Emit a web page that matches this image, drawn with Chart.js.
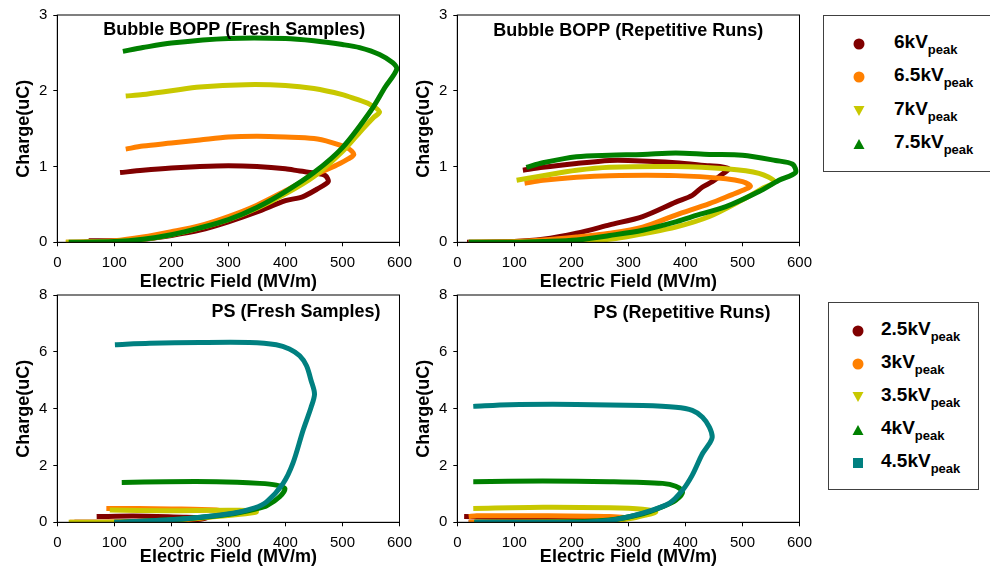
<!DOCTYPE html>
<html>
<head>
<meta charset="utf-8">
<script src="https://cdn.jsdelivr.net/npm/chart.js@4.4.0/dist/chart.umd.min.js"></script>
<style>
  body { margin: 0; width: 990px; height: 570px; overflow: hidden; background: #fff; position: relative;
         font-family: 'Liberation Sans', Arial, sans-serif; }
  canvas { position: absolute; }
  .legend { position: absolute; border: 1px solid #404040; background: #fff; }
  .mark { position: absolute; width: 12px; height: 12px; }
  .lab { position: absolute; font-weight: bold; font-size: 19px; line-height: 19px; color: #000; white-space: nowrap; }
  .lab sub { font-size: 13px; vertical-align: baseline; position: relative; top: 6px; }
</style>
</head>
<body>
<canvas id="bubbleFresh" width="420" height="300" style="left:0;top:0"></canvas>
<canvas id="bubbleRep" width="420" height="300" style="left:400px;top:0"></canvas>
<canvas id="psFresh" width="420" height="290" style="left:0;top:280px"></canvas>
<canvas id="psRep" width="420" height="290" style="left:400px;top:280px"></canvas>
<div class="legend" id="legBubble" style="left:823px;top:15px;width:180px;height:155px"></div>
<div class="legend" id="legPs" style="left:828px;top:302px;width:149px;height:186px"></div>
<script>
// couleurs / séries
const bubbleLabels = ['6', '6.5', '7', '7.5'];
const psLabels = ['2.5', '3', '3.5', '4', '4.5'];
const colors = ['#800000', '#ff8000', '#c8c800', '#008000', '#008080'];
const markers = ['circle', 'circle', 'triDown', 'triUp', 'square'];

// Bubble BOPP, fresh samples  [E (MV/m), Q (uC)]
const bubbleFresh6 = [[55,0.02],[100,0.02],[150,0.04],[200,0.09],[250,0.16],[300,0.27],[350,0.4],[400,0.55],[430,0.6],[455,0.7],[475,0.8],
  [470,0.88],[455,0.91],[425,0.94],[400,0.97],[350,1.0],[300,1.01],[250,1.0],[200,0.98],[150,0.95],[110,0.92]];
const bubbleFresh65 = [[15,0],[60,0.01],[100,0.02],[150,0.07],[200,0.14],[250,0.22],[300,0.34],[350,0.49],[400,0.68],[450,0.88],[490,1.02],[510,1.1],[520,1.16],
  [510,1.24],[480,1.32],[450,1.37],[400,1.39],[350,1.4],[300,1.39],[250,1.35],[200,1.31],[150,1.27],[120,1.23]];
const bubbleFresh7 = [[15,0],[100,0.01],[150,0.04],[200,0.1],[250,0.19],[300,0.3],[350,0.45],[400,0.64],[450,0.87],[500,1.2],[530,1.45],[555,1.65],[565,1.72],
  [548,1.82],[520,1.9],[500,1.95],[450,2.03],[400,2.07],[330,2.08],[250,2.05],[200,2.0],[150,1.95],[120,1.93]];
const bubbleFresh75 = [[20,0],[100,0.01],[150,0.04],[200,0.1],[250,0.19],[300,0.3],[350,0.46],[400,0.67],[450,0.92],[500,1.25],[550,1.74],[575,2.05],[595,2.28],
  [588,2.37],[565,2.48],[530,2.57],[500,2.61],[450,2.66],[400,2.69],[300,2.69],[200,2.63],[150,2.57],[115,2.52]];

// Bubble BOPP, repetitive runs
const bubbleRep6 = [[17,0],[100,0.01],[150,0.04],[209,0.12],[267,0.23],[325,0.34],[383,0.53],[412,0.62],[430,0.73],[447,0.8],[465,0.9],[476,0.97],
  [460,1.0],[442,1.01],[383,1.05],[300,1.08],[267,1.08],[209,1.04],[150,0.99],[115,0.95]];
const bubbleRep65 = [[20,0],[100,0.01],[150,0.03],[209,0.07],[267,0.12],[325,0.2],[383,0.36],[442,0.51],[482,0.63],[505,0.7],[514,0.74],
  [500,0.8],[471,0.84],[383,0.88],[267,0.88],[209,0.86],[150,0.82],[118,0.78]];
const bubbleRep7 = [[20,0],[150,0],[220,0.01],[278,0.05],[330,0.12],[383,0.2],[442,0.34],[500,0.56],[535,0.71],[556,0.8],
  [529,0.91],[471,0.97],[383,1.0],[267,0.99],[209,0.95],[150,0.88],[104,0.82]];
const bubbleRep75 = [[20,0],[100,0],[150,0.01],[209,0.03],[267,0.09],[325,0.16],[383,0.27],[412,0.34],[471,0.47],[529,0.67],[564,0.82],[593,0.92],
  [588,1.03],[558,1.08],[500,1.15],[442,1.16],[383,1.18],[325,1.16],[267,1.15],[209,1.13],[150,1.05],[121,0.99]];

// PS, fresh samples
const psFresh25 = [[30,0],[100,0],[200,0.04],[240,0.08],[262,0.14],[240,0.17],[221,0.18],[133,0.22],[69,0.2]];
const psFresh3 = [[22,0],[100,0.01],[200,0.07],[260,0.17],[297,0.32],[279,0.43],[200,0.47],[86,0.49]];
const psFresh35 = [[20,0],[100,0],[191,0.06],[279,0.2],[330,0.3],[349,0.37],[320,0.42],[191,0.41],[92,0.43]];
const psFresh4 = [[100,0],[191,0.08],[250,0.17],[308,0.3],[350,0.48],[367,0.58],[390,0.9],[399,1.19],
  [384,1.31],[355,1.37],[279,1.43],[191,1.43],[113,1.4]];
const psFresh45 = [[100,0],[191,0.08],[250,0.18],[308,0.32],[345,0.5],[367,0.72],[396,1.37],[413,2.07],[431,3.24],[445,4.05],[451,4.52],
  [445,4.99],[437,5.51],[425,5.86],[407,6.1],[384,6.25],[337,6.33],[250,6.33],[162,6.3],[101,6.25]];

// PS, repetitive runs
const psRep25 = [[20,0],[100,0],[200,0.02],[246,0.05],[200,0.15],[100,0.18],[12,0.2]];
const psRep3 = [[20,0],[200,0.02],[270,0.06],[299,0.14],[267,0.2],[150,0.23],[34,0.23],[20,0.2]];
const psRep35 = [[30,0],[250,0.03],[300,0.12],[330,0.25],[348,0.37],[325,0.46],[267,0.51],[150,0.53],[28,0.49]];
const psRep4 = [[30,0],[200,0.02],[267,0.08],[325,0.3],[360,0.55],[383,0.78],[395,1.07],
  [383,1.27],[360,1.37],[267,1.43],[150,1.45],[28,1.43]];
const psRep45 = [[30,0],[150,0],[220,0],[278,0.1],[325,0.32],[372,0.67],[395,1.13],[412,1.66],[430,2.42],[442,2.77],[447,3.0],
  [442,3.35],[430,3.7],[412,3.94],[383,4.05],[325,4.11],[209,4.15],[92,4.14],[28,4.08]];

const xTicks = [0, 100, 200, 300, 400, 500, 600];
const bubbleYTicks = [0, 1, 2, 3];
const psYTicks = [0, 2, 4, 6, 8];

const FONT = "'Liberation Sans', Arial, sans-serif";

// cadre + titre dans la zone du graphique
const panelPlugin = {
    id: 'panel',
    afterDraw(chart, args, opts) {
        const ctx = chart.ctx;
        const a = chart.chartArea;
        ctx.save();
        ctx.strokeStyle = '#000';
        ctx.lineWidth = 1;
        ctx.strokeRect(a.left, a.top, a.right - a.left, a.bottom - a.top);
        ctx.fillStyle = '#000';
        ctx.font = 'bold 18px ' + FONT;
        ctx.textBaseline = 'middle';
        ctx.textAlign = opts.align;
        const x = opts.align === 'right' ? a.right - opts.dx : a.left + opts.dx;
        ctx.fillText(opts.text, x, a.top + opts.dy);
        ctx.restore();
    }
};

function toPoints(arr) {
    return arr.map(p => ({ x: p[0], y: p[1] }));
}

function makePanel(id, series, yTicks, panel, xAxisH, padBottom) {
    const n = series.length;
    const datasets = series.map((s, i) => ({
        data: toPoints(s),
        showLine: true,
        borderColor: colors[i],
        backgroundColor: colors[i],
        borderWidth: 5,
        pointRadius: 0,
        tension: 0.3,
        order: n - i
    }));
    const yMax = yTicks[yTicks.length - 1];
    new Chart(document.getElementById(id), {
        type: 'scatter',
        data: { datasets: datasets },
        options: {
            responsive: false,
            animation: false,
            devicePixelRatio: 1,
            layout: { padding: { left: 0, top: 14, right: 20, bottom: padBottom } },
            plugins: { legend: { display: false }, tooltip: { enabled: false }, panel: panel },
            scales: {
                x: {
                    type: 'linear', min: xTicks[0], max: xTicks[xTicks.length - 1],
                    afterBuildTicks: s => { s.ticks = xTicks.map(v => ({ value: v })); },
                    ticks: { color: '#000', font: { family: FONT, size: 15 }, padding: 8, maxRotation: 0 },
                    grid: { drawOnChartArea: false, color: '#000', tickLength: 4 },
                    border: { color: '#000' },
                    title: { display: true, text: 'Electric Field (MV/m)', color: '#000', padding: 0,
                             font: { family: FONT, size: 18, weight: 'bold', lineHeight: 1 } },
                    afterFit: s => { s.height = xAxisH; }
                },
                y: {
                    type: 'linear', min: 0, max: yMax,
                    afterBuildTicks: s => { s.ticks = yTicks.map(v => ({ value: v })); },
                    ticks: { color: '#000', font: { family: FONT, size: 15 }, padding: 6 },
                    grid: { drawOnChartArea: false, color: '#000', tickLength: 4 },
                    border: { color: '#000' },
                    title: { display: true, text: 'Charge(uC)', color: '#000', padding: { top: 15, bottom: 0 },
                             font: { family: FONT, size: 18, weight: 'bold', lineHeight: 1 } },
                    afterFit: s => { s.width = 57.3; }
                }
            }
        },
        plugins: [panelPlugin]
    });
}

makePanel('bubbleFresh', [bubbleFresh6, bubbleFresh65, bubbleFresh7, bubbleFresh75], bubbleYTicks,
    { text: 'Bubble BOPP (Fresh Samples)', align: 'center', dx: 177, dy: 15 }, 48.7, 9);
makePanel('bubbleRep', [bubbleRep6, bubbleRep65, bubbleRep7, bubbleRep75], bubbleYTicks,
    { text: 'Bubble BOPP (Repetitive Runs)', align: 'center', dx: 171, dy: 16 }, 48.7, 9);
makePanel('psFresh', [psFresh25, psFresh3, psFresh35, psFresh4, psFresh45], psYTicks,
    { text: 'PS (Fresh Samples)', align: 'right', dx: 19, dy: 17 }, 43.7, 4);
makePanel('psRep', [psRep25, psRep3, psRep35, psRep4, psRep45], psYTicks,
    { text: 'PS (Repetitive Runs)', align: 'right', dx: 29, dy: 18 }, 43.7, 4);

// légendes
function markerSvg(shape, color) {
    let s;
    if (shape === 'circle') s = `<circle cx="6" cy="6" r="5.5" fill="${color}"/>`;
    else if (shape === 'triDown') s = `<polygon points="0.5,1 11.5,1 6,11" fill="${color}"/>`;
    else if (shape === 'triUp') s = `<polygon points="0.5,11 11.5,11 6,1" fill="${color}"/>`;
    else s = `<rect x="1" y="1" width="10" height="10" fill="${color}"/>`;
    return `<svg class="mark" viewBox="0 0 12 12">${s}</svg>`;
}

function buildLegend(id, labels, markX, textX, firstY, step) {
    const box = document.getElementById(id);
    labels.forEach((l, i) => {
        const cy = firstY + i * step;
        const m = document.createElement('div');
        m.innerHTML = markerSvg(markers[i], colors[i]);
        const svg = m.firstChild;
        svg.style.left = (markX - 6) + 'px';
        svg.style.top = (cy - 6) + 'px';
        box.appendChild(svg);
        const t = document.createElement('div');
        t.className = 'lab';
        t.style.left = textX + 'px';
        t.style.top = (cy - 12) + 'px';
        t.innerHTML = l + 'kV<sub>peak</sub>';
        box.appendChild(t);
    });
}
buildLegend('legBubble', bubbleLabels, 35, 70, 28, 33.3);
buildLegend('legPs', psLabels, 28.7, 52, 28, 33);
</script>
</body>
</html>
